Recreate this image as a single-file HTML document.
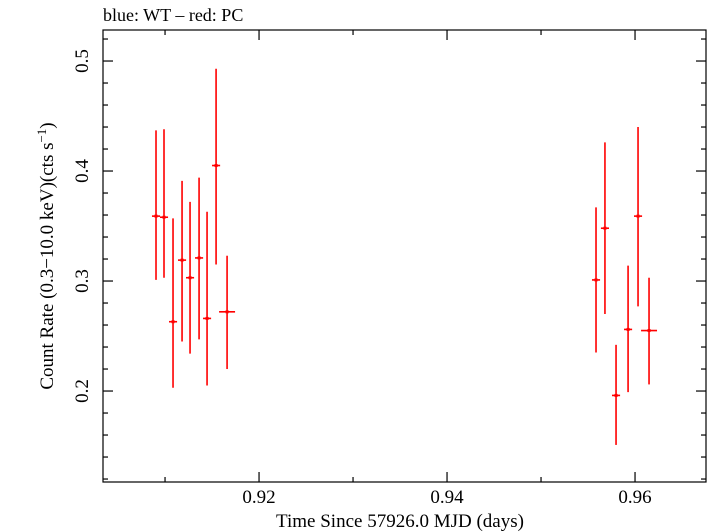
<!DOCTYPE html>
<html><head><meta charset="utf-8"><style>
html,body{margin:0;padding:0;background:#fff;}
svg{display:block;font-family:"Liberation Serif",serif;}
</style></head><body>
<svg id="chart" width="709" height="532" viewBox="0 0 709 532" xmlns="http://www.w3.org/2000/svg">
<text x="103" y="21" font-size="18">blue: WT – red: PC</text>
<text x="400" y="527" font-size="19" text-anchor="middle">Time Since 57926.0 MJD (days)</text>
<text transform="translate(53,256) rotate(-90)" font-size="19" text-anchor="middle">Count Rate (0.3−10.0 keV)(cts s<tspan font-size="13" dy="-7">−1</tspan><tspan dy="7">)</tspan></text>
<g id="axes"></g>
<g id="marks"></g>
</svg>
<script>
const times=[0.90904,0.90989,0.91085,0.91181,0.91266,0.91362,0.91447,0.91543,0.9166,0.95585,0.9568,0.95798,0.95926,0.96032,0.96149];
const timeErr=[0.00043,0.00043,0.00043,0.00043,0.00043,0.00043,0.00043,0.00043,0.00085,0.00043,0.00043,0.00043,0.00043,0.00043,0.00085];
const rates=[0.359,0.358,0.263,0.319,0.303,0.321,0.266,0.405,0.272,0.301,0.348,0.196,0.256,0.359,0.255];
const rateLo=[0.301,0.303,0.203,0.245,0.234,0.247,0.205,0.315,0.22,0.235,0.270,0.151,0.199,0.277,0.206];
const rateHi=[0.437,0.438,0.357,0.391,0.372,0.394,0.363,0.493,0.323,0.367,0.426,0.242,0.314,0.44,0.303];
const xTicks=[0.92,0.94,0.96];
const yTicks=[0.2,0.3,0.4,0.5];
const xTickLabels=["0.92","0.94","0.96"];
const yTickLabels=["0.2","0.3","0.4","0.5"];

const L=103,R=706,T=30,B=482;
const x0=0.90340,x1=0.96755,y0=0.1173,y1=0.5282;
const sx=v=>L+(v-x0)/(x1-x0)*(R-L);
const sy=v=>B-(v-y0)/(y1-y0)*(B-T);
const NS="http://www.w3.org/2000/svg";
function mk(tag,attrs,parent){const e=document.createElementNS(NS,tag);for(const k in attrs)e.setAttribute(k,attrs[k]);parent.appendChild(e);return e;}
const axes=document.getElementById('axes'),marks=document.getElementById('marks');
const frame=mk('rect',{x:L,y:T,width:R-L,height:B-T,fill:'none',stroke:'#000','stroke-width':1.2},axes);


for(let v=0.91;v<=x1+1e-9;v+=0.01){
  const X=sx(v);const major=xTicks.some(t=>Math.abs(t-v)<1e-6);const len=major?10:5;
  const a=mk('line',{x1:X,x2:X,y1:B,y2:B-len,stroke:'#000','stroke-width':1.2},axes);
  
  
  const b=mk('line',{x1:X,x2:X,y1:T,y2:T+len,stroke:'#000','stroke-width':1.2},axes);
  
  
}
xTicks.forEach((v,i)=>{
  const t=mk('text',{x:sx(v),y:B+21,'font-size':19,'text-anchor':'middle'},axes);t.textContent=xTickLabels[i];
  
  
});
for(let v=0.12;v<=y1+1e-9;v+=0.02){
  const Y=sy(v);const major=yTicks.some(t=>Math.abs(t-v)<1e-6);const len=major?10:5;
  const a=mk('line',{x1:L,x2:L+len,y1:Y,y2:Y,stroke:'#000','stroke-width':1.2},axes);
  
  
  const b=mk('line',{x1:R,x2:R-len,y1:Y,y2:Y,stroke:'#000','stroke-width':1.2},axes);
  
  
}
yTicks.forEach((v,i)=>{
  const t=mk('text',{transform:`translate(${L-15},${sy(v)}) rotate(-90)`,'font-size':19,'text-anchor':'middle'},axes);t.textContent=yTickLabels[i];
  
  
});
times.forEach((t,i)=>{
  const g=mk('g',{},marks);
  
  
  mk('line',{x1:sx(t),x2:sx(t),y1:sy(rateLo[i]),y2:sy(rateHi[i]),stroke:'#f00','stroke-width':1.6},g);
  mk('line',{x1:sx(t-timeErr[i]),x2:sx(t+timeErr[i]),y1:sy(rates[i]),y2:sy(rates[i]),stroke:'#f00','stroke-width':1.6},g);
  mk('rect',{x:sx(t)-1.5,y:sy(rates[i])-1.5,width:3,height:3,fill:'#f00'},g);
});
</script>
</body></html>
